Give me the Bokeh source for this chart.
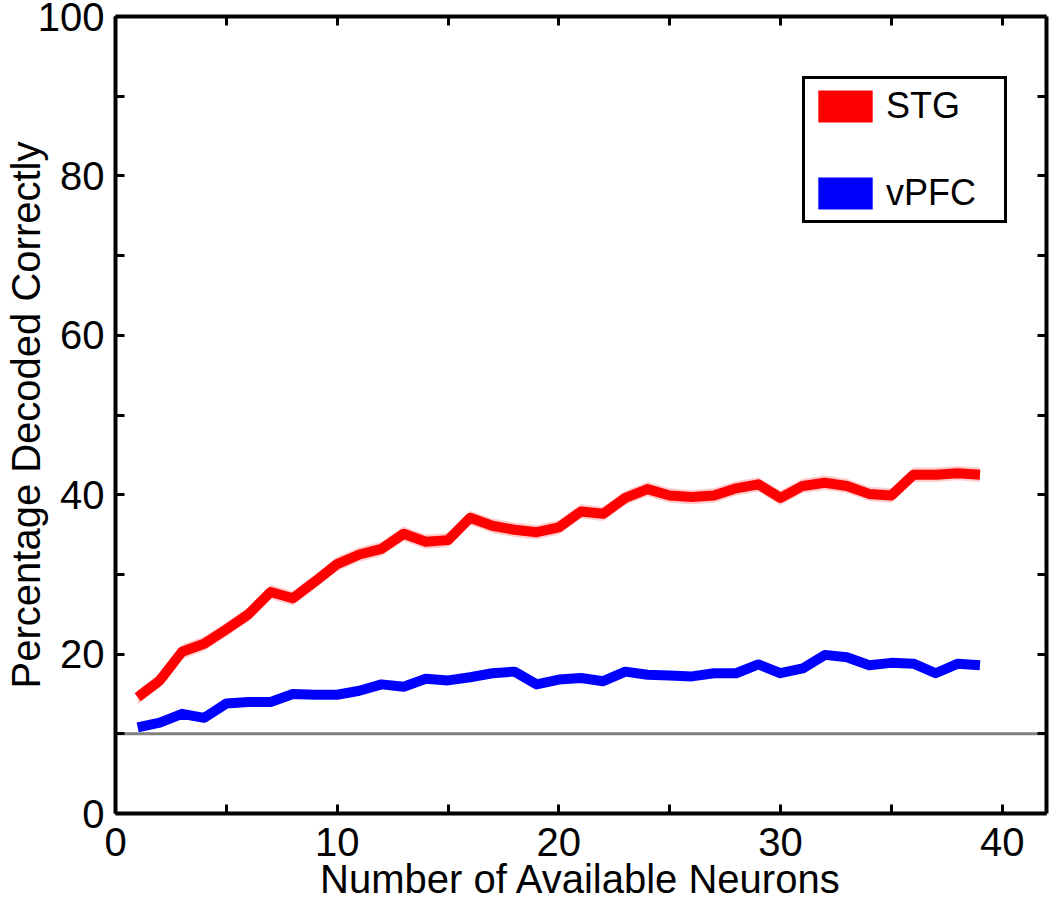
from bokeh.plotting import figure
from bokeh.models import (Range1d, FixedTicker, LinearAxis, Legend, LegendItem,
                          Span, ColumnDataSource)
from bokeh.embed import file_html
from bokeh.resources import INLINE

# ---------------- data ----------------
neurons = [1, 2, 3, 4, 5, 6, 7, 8, 9, 10, 11, 12, 13, 14, 15, 16, 17, 18, 19, 20,
           21, 22, 23, 24, 25, 26, 27, 28, 29, 30, 31, 32, 33, 34, 35, 36, 37, 38, 39]
stg = [14.6, 16.7, 20.3, 21.3, 23.1, 25.0, 27.8, 27.0, 29.1, 31.3,
       32.5, 33.2, 35.1, 34.1, 34.3, 37.1, 36.1, 35.6, 35.3, 35.9,
       37.9, 37.6, 39.6, 40.7, 39.9, 39.7, 39.9, 40.8, 41.3, 39.6,
       41.1, 41.5, 41.1, 40.1, 39.9, 42.5, 42.5, 42.7, 42.5]
vpfc = [10.8, 11.4, 12.5, 12.0, 13.8, 14.0, 14.0, 15.0, 14.9, 14.9,
        15.4, 16.2, 15.9, 16.9, 16.7, 17.1, 17.6, 17.8, 16.2, 16.8,
        17.0, 16.6, 17.8, 17.4, 17.3, 17.2, 17.6, 17.6, 18.7, 17.6,
        18.2, 19.9, 19.6, 18.6, 18.9, 18.8, 17.6, 18.8, 18.6]
stg_sem = 0.9          # half-width of the shaded error band (estimated)
chance_level = 10
series_names = ["STG", "vPFC"]
series_colors = ["#ff0000", "#0000ff"]
x_ticks = [0, 5, 10, 15, 20, 25, 30, 35, 40]
x_labels = [0, 10, 20, 30, 40]
y_ticks = [0, 10, 20, 30, 40, 50, 60, 70, 80, 90, 100]
y_labels = [0, 20, 40, 60, 80, 100]

FONT = "Liberation Sans"

src = ColumnDataSource(dict(
    x=neurons, stg=stg, vpfc=vpfc,
    stg_lo=[v - stg_sem for v in stg], stg_hi=[v + stg_sem for v in stg],
))

p = figure(width=1050, height=903, output_backend="svg", toolbar_location=None,
           x_range=Range1d(0, 42), y_range=Range1d(0, 100),
           min_border_left=115, min_border_right=4, min_border_top=16,
           min_border_bottom=90)
p.xgrid.visible = False
p.ygrid.visible = False
p.outline_line_color = None
p.background_fill_color = "white"

# chance level
p.add_layout(Span(location=chance_level, dimension="width", line_color="#808080",
                  line_width=3, level="underlay"))

# STG shaded band and lines
p.varea(x="x", y1="stg_lo", y2="stg_hi", source=src, fill_color="#ffcccc")
p.line(x="x", y="stg", source=src, line_color=series_colors[0], line_width=10,
       line_join="round")
p.line(x="x", y="vpfc", source=src, line_color=series_colors[1], line_width=10,
       line_join="round")

# legend-only swatches (NaN geometry: nothing drawn in the plot area)
nan = float("nan")
r_stg = p.quad(left=[nan], right=[nan], top=[nan], bottom=[nan],
               fill_color=series_colors[0], line_color=None)
r_vpfc = p.quad(left=[nan], right=[nan], top=[nan], bottom=[nan],
                fill_color=series_colors[1], line_color=None)
legend = Legend(items=[LegendItem(label=series_names[0], renderers=[r_stg]),
                       LegendItem(label=series_names[1], renderers=[r_vpfc])],
                location=(687, 590), orientation="vertical",
                glyph_width=68, glyph_height=40, spacing=45, padding=6,
                label_standoff=7, label_width=112,
                label_text_font=FONT, label_text_font_size="36px",
                label_text_color="black", label_text_baseline="middle",
                border_line_color="black", border_line_width=3,
                border_line_alpha=1.0,
                background_fill_color="white", background_fill_alpha=1.0)
p.add_layout(legend)


def style_axis(ax, ticks, labels, show_labels=True):
    ax.ticker = FixedTicker(ticks=ticks)
    ax.major_label_overrides = {t: (str(t) if t in labels else "") for t in ticks}
    ax.axis_line_width = 4
    ax.axis_line_color = "black"
    ax.major_tick_line_width = 3
    ax.major_tick_line_color = "black"
    ax.major_tick_in = 9
    ax.major_tick_out = 0
    ax.minor_tick_line_color = None
    ax.major_label_text_font = FONT
    ax.major_label_text_color = "black"
    if show_labels:
        ax.major_label_text_font_size = "40px"
    else:
        ax.major_label_text_font_size = "0px"
        ax.major_label_standoff = 0


style_axis(p.xaxis[0], x_ticks, x_labels)
style_axis(p.yaxis[0], y_ticks, y_labels)
p.xaxis[0].major_label_standoff = 14
p.yaxis[0].major_label_standoff = 11
p.xaxis[0].axis_label = "Number of Available Neurons"
p.yaxis[0].axis_label = "Percentage Decoded Correctly"
for ax in (p.xaxis[0], p.yaxis[0]):
    ax.axis_label_text_font = FONT
    ax.axis_label_text_font_size = "40px"
    ax.axis_label_text_font_style = "normal"
    ax.axis_label_text_color = "black"
p.xaxis[0].axis_label_standoff = -2
p.yaxis[0].axis_label_standoff = -13

top_ax = LinearAxis()
right_ax = LinearAxis()
style_axis(top_ax, x_ticks, [], show_labels=False)
style_axis(right_ax, y_ticks, [], show_labels=False)
p.add_layout(top_ax, "above")
p.add_layout(right_ax, "right")

open("out.html", "w").write(file_html(p, INLINE))
